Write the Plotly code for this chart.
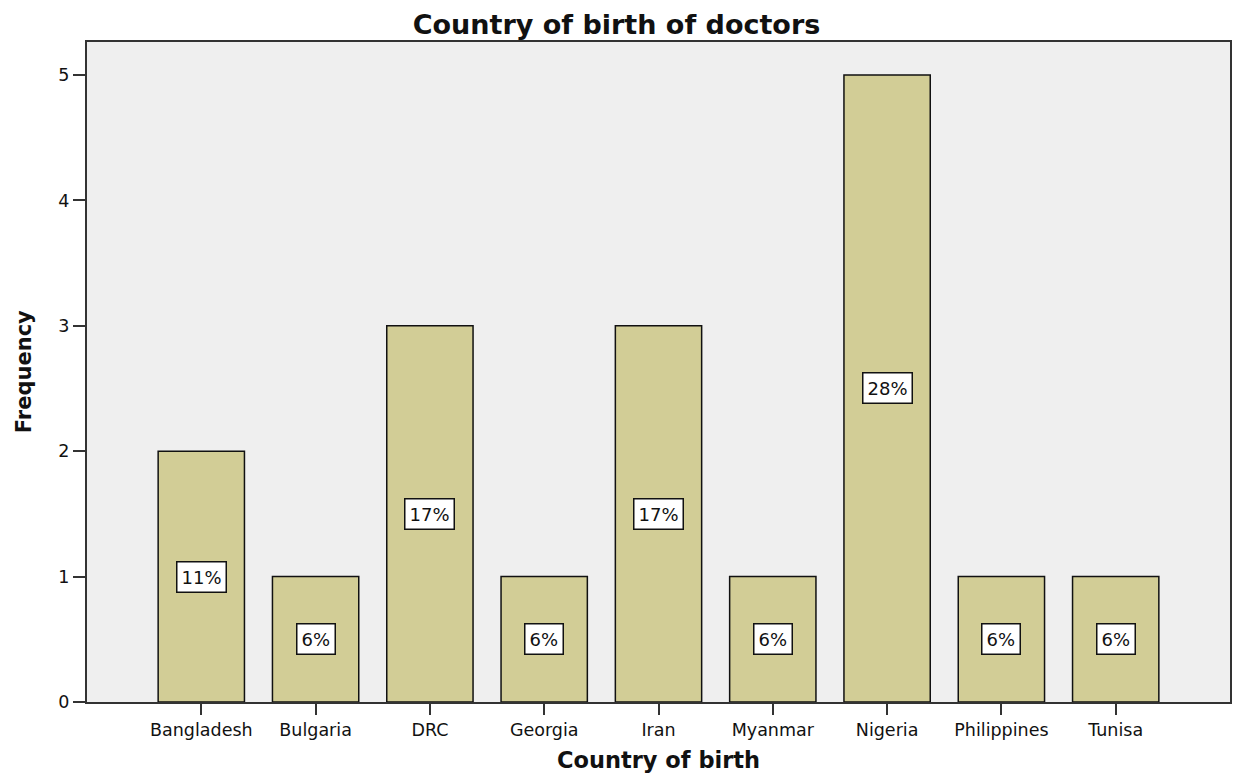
import plotly.graph_objects as go

countries = ['Bangladesh', 'Bulgaria', 'DRC', 'Georgia', 'Iran',
             'Myanmar', 'Nigeria', 'Philippines', 'Tunisa']
frequency = [2, 1, 3, 1, 3, 1, 5, 1, 1]
percent_labels = ['11%', '6%', '17%', '6%', '17%', '6%', '28%', '6%', '6%']

color_bar = '#D2CD96'
color_bg = '#EFEFEF'
font_family = 'DejaVu Sans'

fig = go.Figure()

fig.add_trace(go.Bar(
    x=countries,
    y=frequency,
    width=0.755,
    marker=dict(color=color_bar, line=dict(color='#111111', width=1.5)),
    showlegend=False,
    hoverinfo='x+y',
))

# white percentage boxes in the middle of each bar
for c, f, lab in zip(countries, frequency, percent_labels):
    fig.add_annotation(
        x=c, y=f / 2, text=lab, showarrow=False,
        font=dict(family=font_family, size=18, color='#111111'),
        bgcolor='white', bordercolor='#111111', borderwidth=1.5, borderpad=4,
        xanchor='center', yanchor='middle',
    )

fig.update_layout(
    width=1233,
    height=774,
    margin=dict(l=87, r=1, t=42, b=72),
    paper_bgcolor='white',
    plot_bgcolor=color_bg,
    font=dict(family=font_family, color='#111111'),
    title=dict(
        text='<b>Country of birth of doctors</b>',
        font=dict(family=font_family, size=27, color='#111111'),
        x=0.5, xanchor='center',
        y=1 - 25 / 774, yanchor='middle',
    ),
    bargap=0.25,
)

fig.update_xaxes(
    range=[-1, 9],
    showgrid=False,
    showline=True, linecolor='#333333', linewidth=2, mirror=True,
    ticks='outside', ticklen=11, tickwidth=2, tickcolor='#333333',
    tickfont=dict(family=font_family, size=17.5, color='#111111'),
    zeroline=False,
)

fig.update_yaxes(
    range=[0, 5.263],
    tickvals=[0, 1, 2, 3, 4, 5],
    showgrid=False,
    showline=True, linecolor='#333333', linewidth=2, mirror=True,
    ticks='outside', ticklen=12, tickwidth=2, tickcolor='#333333',
    tickfont=dict(family=font_family, size=17.5, color='#111111'),
    zeroline=False,
)

# axis titles
fig.add_annotation(
    xref='paper', yref='paper', x=0.5, y=-0.088,
    text='<b>Country of birth</b>', showarrow=False,
    font=dict(family=font_family, size=22.5, color='#111111'),
    xanchor='center', yanchor='middle',
)
fig.add_annotation(
    xref='paper', yref='paper', x=-0.055, y=0.5,
    text='<b>Frequency</b>', showarrow=False, textangle=-90,
    font=dict(family=font_family, size=21, color='#111111'),
    xanchor='center', yanchor='middle',
)

# drop the page's default body margin so the figure fills the window exactly
fig.write_html(
    'out.html',
    config={'displayModeBar': False},
    post_script="document.body.style.margin='0';document.body.style.overflow='hidden';",
)
